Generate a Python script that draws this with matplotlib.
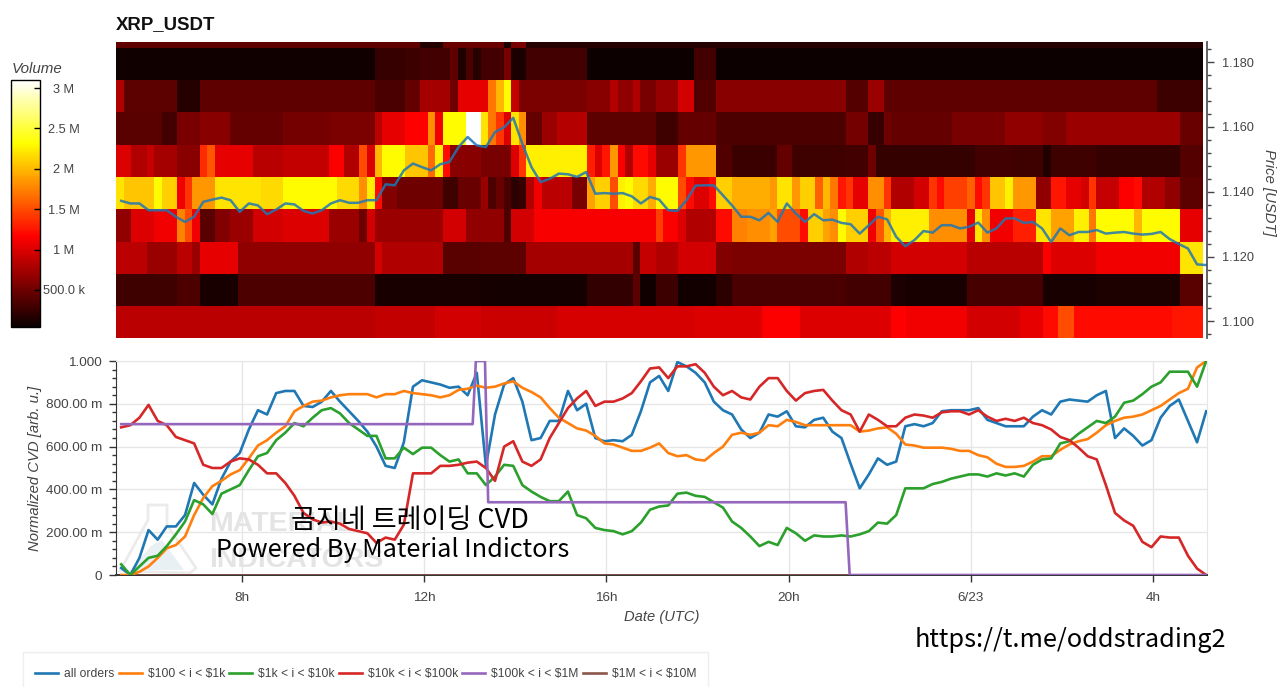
import numpy as np
import matplotlib
matplotlib.use("Agg")
import matplotlib.pyplot as plt
from matplotlib.patches import Polygon, Rectangle
from matplotlib.ticker import FixedLocator, MultipleLocator

plt.rcParams["font.family"] = ["Liberation Sans", "DejaVu Sans"]

GREY = "#444444"
VMIN, VMAX = 40, 3100

# sampling of the price and cvd series, hours since 6/22 00:00
hours = 5.36 + 0.2 * np.arange(120)

price = [1.1372, 1.1364, 1.1364, 1.1343, 1.1343, 1.1343, 1.1323, 1.1307, 1.1323, 1.1369,
         1.1376, 1.1382, 1.1374, 1.1338, 1.1364, 1.1358, 1.1331, 1.1345, 1.1364, 1.1361,
         1.1341, 1.1333, 1.1343, 1.1364, 1.1374, 1.1366, 1.1366, 1.1374, 1.1374, 1.1423,
         1.1420, 1.1466, 1.1487, 1.1476, 1.1466, 1.1485, 1.1492, 1.1538, 1.1569, 1.1543,
         1.1538, 1.1584, 1.1599, 1.1628, 1.1548, 1.1476, 1.1430, 1.1440, 1.1456, 1.1454,
         1.1446, 1.1461, 1.1394, 1.1396, 1.1394, 1.1396, 1.1386, 1.1364, 1.1384, 1.1376,
         1.1343, 1.1341, 1.1374, 1.1419, 1.1420, 1.1420, 1.1389, 1.1358, 1.1323, 1.1323,
         1.1312, 1.1335, 1.1307, 1.1364, 1.1333, 1.1307, 1.1331, 1.1312, 1.1314, 1.1304,
         1.1300, 1.1271, 1.1297, 1.1323, 1.1315, 1.1261, 1.1232, 1.1251, 1.1279, 1.1274,
         1.1297, 1.1297, 1.1287, 1.1292, 1.1305, 1.1274, 1.1287, 1.1318, 1.1318, 1.1304,
         1.1307, 1.1287, 1.1245, 1.1287, 1.1266, 1.1276, 1.1276, 1.1282, 1.1271, 1.1274,
         1.1276, 1.1271, 1.1268, 1.1270, 1.1276, 1.1254, 1.1239, 1.1225, 1.1176, 1.1174]

all_orders = [.033, 0, .08, .21, .165, .227, .227, .28, .43, .375, .33, .45, .53, .57, .68, .77, .75, .85, .86, .86,
              .79, .785, .81, .86, .81, .765, .72, .67, .60, .51, .50, .62, .88, .91, .90, .89, .875, .88, .84, .945,
              .51, .75, .89, .92, .81, .63, .64, .72, .72, .86, .77, .80, .64, .625, .63, .625, .655, .765, .90, .93,
              .86, .995, .975, .945, .90, .81, .77, .75, .68, .64, .665, .75, .74, .765, .695, .69, .725, .735, .67, .64,
              .52, .405, .47, .545, .515, .53, .695, .705, .695, .71, .765, .77, .77, .77, .78, .725, .71, .695, .695, .695,
              .74, .77, .75, .81, .82, .815, .81, .84, .86, .64, .685, .65, .605, .63, .735, .79, .82, .72, .62, .765]

orders_100_1k = [0, 0, .015, .04, .08, .125, .14, .18, .28, .36, .415, .44, .47, .49, .545, .605, .63, .665, .695, .765,
                 .79, .81, .815, .83, .84, .845, .845, .845, .83, .845, .845, .86, .85, .845, .84, .83, .84, .865, .87, .885,
                 .875, .88, .895, .905, .875, .855, .83, .78, .735, .71, .685, .675, .65, .615, .61, .595, .58, .58, .595, .615,
                 .57, .555, .56, .54, .535, .57, .60, .655, .665, .655, .665, .70, .695, .725, .715, .70, .70, .70, .70, .70,
                 .70, .67, .675, .685, .69, .66, .61, .605, .595, .595, .595, .59, .58, .58, .56, .55, .52, .505, .505, .51,
                 .53, .555, .555, .585, .61, .625, .635, .665, .70, .72, .735, .74, .75, .77, .79, .82, .85, .87, .97, 1.0]

orders_1k_10k = [.05, 0, .04, .08, .09, .135, .19, .25, .35, .33, .285, .38, .40, .42, .49, .555, .57, .63, .665, .71,
                 .695, .735, .77, .78, .755, .71, .68, .65, .65, .545, .545, .595, .565, .595, .595, .56, .53, .54, .475, .475,
                 .42, .46, .515, .51, .42, .39, .365, .345, .345, .39, .28, .265, .22, .21, .205, .19, .205, .245, .305, .32,
                 .325, .38, .385, .37, .365, .34, .315, .25, .22, .18, .135, .155, .14, .22, .195, .16, .185, .18, .18, .185,
                 .18, .19, .205, .245, .24, .28, .405, .405, .405, .425, .435, .45, .46, .47, .47, .46, .475, .465, .475, .46,
                 .515, .54, .545, .615, .625, .66, .69, .72, .71, .74, .805, .815, .845, .88, .90, .95, .95, .95, .88, 1.0]

orders_10k_100k = [.69, .70, .735, .795, .72, .70, .645, .63, .615, .515, .50, .50, .53, .545, .54, .515, .475, .475, .43, .37,
                   .29, .26, .245, .25, .24, .215, .205, .195, .15, .175, .165, .235, .475, .475, .475, .51, .51, .515, .525, .53,
                   .50, .44, .60, .625, .53, .51, .54, .64, .71, .78, .825, .86, .79, .81, .81, .825, .85, .905, .965, .97,
                   .92, .975, .975, .985, .945, .88, .84, .86, .83, .82, .88, .92, .92, .86, .815, .85, .86, .865, .815, .77,
                   .75, .67, .75, .725, .695, .695, .735, .75, .745, .735, .76, .765, .765, .75, .77, .74, .72, .73, .72, .735,
                   .71, .70, .68, .645, .63, .595, .555, .54, .42, .29, .255, .23, .155, .13, .18, .175, .175, .09, .03, 0]

# the $100k bucket only moves in steps
step_hours = [5.36, 13.07, 13.14, 13.34, 13.41, 21.25, 21.34, 29.16]
orders_100k_1m = [.705, .705, 1.0, 1.0, .34, .34, 0, 0]
orders_1m_10m = [0] * 120

legend_labels = ["all orders", r"\$100 < i < \$1k", r"\$1k < i < \$10k", r"\$10k < i < \$100k",
                 r"\$100k < i < \$1M", r"\$1M < i < \$10M"]
series_colors = ["#1f77b4", "#ff7f0e", "#2ca02c", "#d62728", "#9467bd", "#8c564b"]

# volume per price level in thousands, stored as run lengths of 10 minute columns, lowest level first
price_edges = [1.0949, 1.1047, 1.1146, 1.1246, 1.1346, 1.1445, 1.1545, 1.1646, 1.1745, 1.1844, 1.1950]

level_1100 = ([850, 880, 950, 920, 980, 1000, 1140, 1000, 1160, 1100, 950, 1050, 1200, 1500, 1200, 1250],
              [34, 8, 6, 10, 18, 9, 5, 12, 2, 8, 7, 3, 2, 2, 13, 4])
level_1110 = ([290, 350, 100, 340, 100, 90, 220, 420, 70, 270, 80, 200, 330, 300, 130, 100, 320, 110, 130, 400],
              [8, 3, 5, 18, 14, 14, 6, 1, 2, 3, 5, 2, 15, 6, 2, 8, 10, 7, 11, 3])
level_1120 = ([850, 700, 850, 700, 1050, 650, 950, 800, 400, 420, 750, 400, 900, 800, 950, 600, 560, 800, 850,
               950, 830, 1150, 1000, 1100, 2200],
              [4, 4, 2, 1, 5, 18, 1, 8, 5, 6, 14, 1, 2, 3, 5, 2, 15, 3, 3, 10, 10, 1, 6, 11, 3])
level_1130 = ([650, 1000, 1100, 1750, 1500, 1100, 400, 600, 700, 950, 1000, 700, 500, 950, 700, 950, 650, 650, 350,
               950, 1130, 1450, 1150, 1000, 800, 1200, 1750, 1800, 1900, 1500, 1200, 2100, 1900, 1800, 2300, 2100,
               1100, 1550, 2000, 2250, 1800, 1050, 2200, 1800, 1100, 1300, 2200, 1900, 2250, 1700, 2300, 2000, 2300, 1050],
              [2, 3, 3, 1, 1, 1, 2, 2, 3, 4, 6, 4, 1, 1, 9, 3, 2, 3, 1,
               3, 16, 1, 2, 1, 4, 2, 2, 3, 1, 3, 1, 2, 1, 1, 1, 3,
               1, 1, 1, 5, 5, 1, 1, 1, 3, 3, 2, 3, 2, 1, 5, 1, 5, 3])
level_1140 = ([2200, 2050, 2300, 2100, 1100, 1400, 1850, 2200, 2150, 2300, 2150, 1800, 2250, 1200, 600, 500, 280, 480,
               700, 350, 480, 330, 200, 250, 800, 1100, 850, 550, 1900, 2100, 1500, 2250, 2300, 2150, 1950, 2300, 1500,
               1200, 1000, 1200, 2100, 1950, 1850, 2200, 1850, 2100, 1600, 2000, 1700, 1250, 1400, 1050, 1800, 1400, 800,
               950, 1400, 1200, 1450, 1600, 1200, 1400, 2050, 2250, 1850, 650, 1250, 1050, 950, 1400, 900, 1150, 1200,
               800, 650, 420],
              [1, 4, 1, 2, 1, 1, 3, 6, 3, 7, 3, 1, 1, 1, 2, 6, 2, 3,
               1, 1, 1, 1, 1, 1, 1, 1, 4, 2, 1, 2, 1, 1, 1, 2, 1, 3, 1,
               1, 2, 1, 2, 5, 1, 2, 1, 2, 1, 1, 1, 1, 1, 2, 2, 1, 3,
               2, 1, 1, 3, 1, 1, 1, 2, 1, 3, 2, 2, 2, 1, 1, 3, 2, 1,
               3, 2, 3])
level_1150 = ([1000, 800, 900, 750, 620, 1350, 1550, 1050, 830, 880, 1150, 800, 1500, 1000, 2000, 2300, 2050, 1650,
               2250, 1200, 620, 550, 1000, 1400, 2250, 1300, 1000, 1250, 1850, 1150, 800, 1200, 1050, 700, 1400, 1850,
               370, 260, 450, 280, 300, 500, 240, 300, 280, 150, 280, 240, 380],
              [2, 2, 1, 3, 3, 1, 1, 5, 4, 6, 2, 2, 1, 1, 1, 3, 3, 1,
               1, 1, 4, 4, 1, 1, 8, 1, 1, 1, 1, 1, 1, 2, 1, 3, 1, 4,
               2, 6, 2, 7, 3, 1, 13, 5, 4, 1, 6, 11, 3])
level_1160 = ([400, 300, 550, 620, 450, 520, 560, 850, 1050, 1160, 1800, 1100, 2300, 3100, 2200, 1700, 1400, 1000,
               2200, 1800, 450, 700, 820, 420, 280, 450, 350, 520, 250, 500, 450, 550, 650, 580, 700, 480],
              [6, 2, 3, 4, 7, 6, 6, 1, 3, 3, 1, 1, 3, 2, 1, 1, 1, 1,
               1, 1, 2, 2, 4, 9, 3, 5, 17, 3, 2, 1, 8, 7, 5, 3, 15, 3])
level_1170 = ([800, 420, 170, 430, 330, 450, 750, 500, 1050, 1700, 2000, 2300, 900, 560, 620, 800, 650, 800, 550,
               680, 950, 370, 620, 380, 700, 430, 270],
              [1, 7, 3, 23, 4, 2, 4, 1, 4, 1, 1, 1, 1, 9, 3, 1, 2, 1, 2,
               3, 2, 3, 17, 3, 2, 36, 6])
level_1180 = ([70, 250, 270, 300, 430, 130, 350, 180, 300, 550, 120, 300, 60, 300, 60],
              [34, 4, 2, 4, 1, 1, 1, 1, 3, 1, 2, 8, 14, 3, 64])
level_1190 = ([430, 150, 480, 100, 550, 170],
              [40, 3, 8, 1, 2, 89])

levels = [level_1100, level_1110, level_1120, level_1130, level_1140,
          level_1150, level_1160, level_1170, level_1180, level_1190]
volume = np.array([np.repeat(vals, counts) for vals, counts in levels])
column_edges = 5.25 + np.arange(volume.shape[1] + 1) / 6

cbar_ticks = [500, 1000, 1500, 2000, 2500, 3000]
cbar_labels = ["500.0 k", "1 M", "1.5 M", "2 M", "2.5 M", "3 M"]
price_ticks = [1.10, 1.12, 1.14, 1.16, 1.18]
cvd_ticks = [0, .2, .4, .6, .8, 1.0]
cvd_labels = ["0", "200.00 m", "400.00 m", "600.00 m", "800.00 m", "1.000"]
time_ticks = [8, 12, 16, 20, 24, 28]
time_labels = ["8h", "12h", "16h", "20h", "6/23", "4h"]


def box(left, top, right, bottom):
    return [left / 1280, 1 - bottom / 687, (right - left) / 1280, (bottom - top) / 687]


def fig_xy(x, y):
    return x / 1280, 1 - y / 687


fig = plt.figure(figsize=(12.8, 6.87), dpi=100)
ax_top = fig.add_axes(box(116, 42, 1206.5, 338))
ax_cvd = fig.add_axes(box(116, 361, 1206.5, 575))
cax = fig.add_axes(box(11, 80, 40, 327))

# heatmap with price on top
mesh = ax_top.pcolormesh(column_edges, price_edges, volume, cmap="hot", vmin=VMIN, vmax=VMAX, shading="flat")
ax_top.plot(hours, price, color="#1f77b4", lw=1.8, alpha=0.85)
ax_top.set_xlim(5.246, 29.167)
ax_top.set_ylim(1.0949, 1.1862)
ax_top.yaxis.tick_right()
ax_top.yaxis.set_label_position("right")
ax_top.set_xticks([])
ax_top.set_yticks(price_ticks)
ax_top.set_yticklabels([f"{p:.3f}" for p in price_ticks])
ax_top.yaxis.set_minor_locator(MultipleLocator(0.004))
ax_top.tick_params(axis="y", which="major", length=5, width=1, color="#444444", labelcolor=GREY, labelsize=9.2, pad=6)
ax_top.tick_params(axis="y", which="minor", length=3, width=1, color="#444444")
for side in ["top", "left", "bottom"]:
    ax_top.spines[side].set_visible(False)
ax_top.spines["right"].set_color("#555555")
ax_top.spines["right"].set_linewidth(1.3)
fig.text(*fig_xy(1269, 192), "Price [USDT]", rotation=-90, style="italic", color=GREY,
         fontsize=10.7, ha="center", va="center")
fig.text(*fig_xy(116, 25), "XRP_USDT", fontweight="bold", fontsize=13.4, color="#111111", ha="left", va="center")

# volume colorbar
cbar = fig.colorbar(mesh, cax=cax)
cbar.set_ticks(cbar_ticks)
cbar.set_ticklabels(cbar_labels)
cax.minorticks_off()
cax.tick_params(axis="y", direction="in", length=4.5, width=1, color="black", labelcolor=GREY, labelsize=9.2, pad=17)
for lab in cax.get_yticklabels():
    lab.set_ha("center")
cbar.outline.set_edgecolor("black")
cbar.outline.set_linewidth(1)
fig.text(*fig_xy(12, 69), "Volume", style="italic", color=GREY, fontsize=10.9, ha="left", va="center")

# faded logo and wordmark behind the cvd lines
to_fig = fig.transFigure
outer = [fig_xy(120, 571), fig_xy(148, 520), fig_xy(148, 505), fig_xy(167, 505), fig_xy(167, 525), fig_xy(196, 568), fig_xy(190, 573)]
inner = [fig_xy(130, 570), fig_xy(152, 545), fig_xy(162, 540), fig_xy(184, 570)]
ax_cvd.add_patch(Polygon(outer, closed=True, transform=to_fig, facecolor="white", edgecolor="#ebebeb", lw=2, zorder=0.5))
ax_cvd.add_patch(Polygon(inner, closed=True, transform=to_fig, facecolor="#e9f0f4", edgecolor="none", zorder=0.6))
for word, y_word in [("MATERIAL", 524), ("INDICATORS", 560)]:
    ax_cvd.text(*fig_xy(209, y_word), word, transform=to_fig, fontweight="bold", fontsize=20.5, color="#e4e4e4",
                ha="left", va="center", zorder=0.7)

# normalized cvd lines
ax_cvd.plot(hours, all_orders, color=series_colors[0], lw=1.9, label=legend_labels[0], zorder=3)
ax_cvd.plot(hours, orders_100_1k, color=series_colors[1], lw=1.9, label=legend_labels[1], zorder=3.1)
ax_cvd.plot(hours, orders_1k_10k, color=series_colors[2], lw=1.9, label=legend_labels[2], zorder=3.2)
ax_cvd.plot(hours, orders_10k_100k, color=series_colors[3], lw=1.9, label=legend_labels[3], zorder=3.3)
ax_cvd.plot(step_hours, orders_100k_1m, color=series_colors[4], lw=1.9, label=legend_labels[4], zorder=3.4)
ax_cvd.plot(hours, orders_1m_10m, color=series_colors[5], lw=1.9, label=legend_labels[5], zorder=2.9)
ax_cvd.set_xlim(5.246, 29.167)
ax_cvd.set_ylim(0, 1)
ax_cvd.set_xticks(time_ticks)
ax_cvd.set_xticklabels(time_labels)
ax_cvd.set_yticks(cvd_ticks)
ax_cvd.set_yticklabels(cvd_labels)
ax_cvd.yaxis.set_minor_locator(FixedLocator(np.arange(0, 1.01, 0.04)))
ax_cvd.grid(True, color="#e6e6e6", lw=1, zorder=0)
ax_cvd.set_axisbelow(True)
ax_cvd.tick_params(axis="both", which="major", direction="out", length=5, width=1, color="#333333",
                   labelcolor=GREY, labelsize=9.7, pad=5)
ax_cvd.tick_params(axis="x", pad=7)
ax_cvd.tick_params(axis="y", which="minor", direction="out", length=3, width=1, color="#333333")
for side in ["top", "right"]:
    ax_cvd.spines[side].set_color("#e6e6e6")
ax_cvd.spines["left"].set_color("#333333")
ax_cvd.spines["bottom"].set_color("#333333")
ax_cvd.spines["bottom"].set_linewidth(1.4)
fig.text(*fig_xy(35, 468), "Normalized CVD [arb. u.]", rotation=90, style="italic", color=GREY,
         fontsize=10.7, ha="center", va="center")
fig.text(*fig_xy(662, 617), "Date (UTC)", style="italic", color=GREY, fontsize=10.6, ha="center", va="center")

# legend sits in a pale box that runs off the bottom edge
fig.add_artist(Rectangle(fig_xy(23, 692), 685 / 1280, 40 / 687, transform=fig.transFigure,
                         facecolor="white", edgecolor="#eeeeee", lw=1))
leg = fig.legend(loc="center left", bbox_to_anchor=fig_xy(35, 674), ncol=6, fontsize=8.7, frameon=False,
                 handlelength=1.9, handletextpad=0.5, columnspacing=0.35, borderpad=0, borderaxespad=0)
for txt in leg.get_texts():
    txt.set_color(GREY)

# captions laid over the chart
kr_font = ["Noto Sans CJK KR", "DejaVu Sans"]
fig.text(*fig_xy(410, 520), "곰지네 트레이딩 CVD", family=kr_font, fontsize=19.5, color="black", ha="center", va="center")
fig.text(*fig_xy(393, 550), "Powered By Material Indictors", family=kr_font, fontsize=18.2, color="black", ha="center", va="center")
fig.text(*fig_xy(1070, 640), "https://t.me/oddstrading2", family=kr_font, fontsize=18.2, color="black", ha="center", va="center")

fig.savefig("out.png", dpi=100)
